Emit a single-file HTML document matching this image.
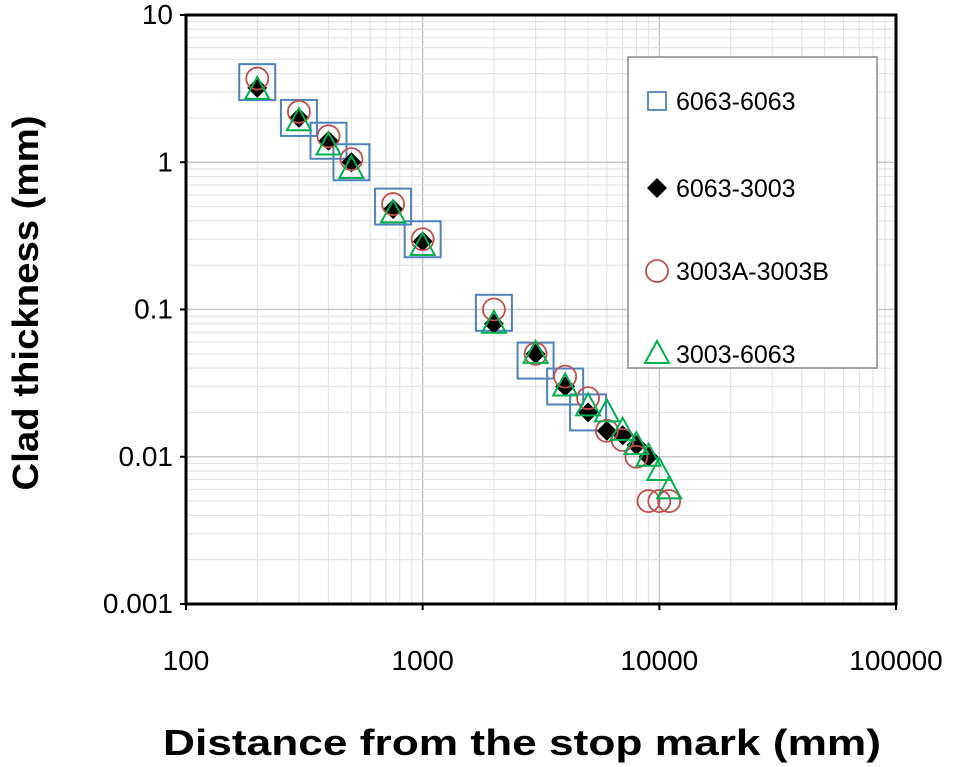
<!DOCTYPE html>
<html><head><meta charset="utf-8"><style>
body{margin:0;background:#fff;width:958px;height:767px;overflow:hidden}
svg{display:block;font-family:"Liberation Sans",sans-serif}
</style></head><body>
<svg id="c" width="958" height="767"></svg>
<script>
const xTicks=[100,1000,10000,100000];
const xTickLabels=["100","1000","10000","100000"];
const yTicks=[0.001,0.01,0.1,1,10];
const yTickLabels=["0.001","0.01","0.1","1","10"];
const seriesNames=["6063-6063","6063-3003","3003A-3003B","3003-6063"];
const x6063_6063=[200,300,400,500,750,1000,2000,3000,4000,5000];
const y6063_6063=[3.5,2.0,1.4,1.0,0.5,0.3,0.095,0.045,0.03,0.02];
const x6063_3003=[200,300,400,500,750,1000,2000,3000,4000,5000,6000,7000,8000,9000];
const y6063_3003=[3.2,2.0,1.4,1.0,0.48,0.29,0.08,0.05,0.03,0.02,0.015,0.014,0.012,0.01];
const x3003A_B=[200,300,400,500,750,1000,2000,3000,4000,5000,6000,7000,8000,9000,10000,11000];
const y3003A_B=[3.7,2.2,1.5,1.05,0.52,0.3,0.1,0.05,0.035,0.025,0.015,0.013,0.01,0.005,0.005,0.005];
const x3003_6063=[200,300,400,500,750,1000,2000,3000,4000,5000,6000,7000,8000,9000,10000,11000];
const y3003_6063=[3.1,1.9,1.3,0.9,0.45,0.27,0.08,0.05,0.03,0.022,0.02,0.015,0.012,0.01,0.008,0.006];

const L=186,R=896,T=15,B=604;
const sx=v=>L+(Math.log10(v)-2)/3*(R-L);
const sy=v=>B-(Math.log10(v)+3)/4*(B-T);
const svg=document.getElementById('c');
const NS='http://www.w3.org/2000/svg';
function mk(tag,attrs,parent){const e=document.createElementNS(NS,tag);for(const k in attrs)e.setAttribute(k,attrs[k]);(parent||svg).appendChild(e);return e;}

const grid=mk('g',{});


for(let d=2;d<5;d++)for(let m=1;m<10;m++){const v=m*Math.pow(10,d);const x=sx(v);
 mk('line',{x1:x,x2:x,y1:T,y2:B,stroke:m==1?'#c8c8c8':'#e4e4e4','stroke-width':m==1?1.5:1.2},grid);}
for(let d=-3;d<1;d++)for(let m=1;m<10;m++){const v=m*Math.pow(10,d);const y=sy(v);
 mk('line',{x1:L,x2:R,y1:y,y2:y,stroke:m==1?'#c8c8c8':'#e4e4e4','stroke-width':m==1?1.5:1.2},grid);}

const frame=mk('rect',{x:L,y:T,width:R-L,height:B-T,fill:'none',stroke:'#000','stroke-width':3});



xTicks.forEach((v,i)=>{const t=mk('text',{x:sx(v),y:670,'font-size':28,'text-anchor':'middle',fill:'#000'});t.textContent=xTickLabels[i];
 
 
 mk('line',{x1:sx(v),x2:sx(v),y1:B,y2:B+6,stroke:'#000','stroke-width':2});});
yTicks.forEach((v,i)=>{const t=mk('text',{x:173,y:sy(v)+9,'font-size':28,'text-anchor':'end',fill:'#000'});t.textContent=yTickLabels[i];
 
 
 mk('line',{x1:L-6,x2:L,y1:sy(v),y2:sy(v),stroke:'#000','stroke-width':2});});

const xt=mk('text',{x:522,y:755,'font-size':36,'font-weight':'bold','text-anchor':'middle',textLength:718,lengthAdjust:'spacingAndGlyphs'});xt.textContent='Distance from the stop mark (mm)';


const yt=mk('text',{x:0,y:0,'font-size':36,'font-weight':'bold','text-anchor':'middle',textLength:375,lengthAdjust:'spacingAndGlyphs',transform:'translate(38,303) rotate(-90)'});yt.textContent='Clad thickness (mm)';



function marker(kind,x,y,g){
 if(kind==0)mk('rect',{x:x-18,y:y-18,width:36,height:36,fill:'none',stroke:'#4f81bd','stroke-width':2},g);
 else if(kind==1)mk('polygon',{points:`${x},${y-10} ${x+10},${y} ${x},${y+10} ${x-10},${y}`,fill:'#000'},g);
 else if(kind==2)mk('circle',{cx:x,cy:y,r:11,fill:'none',stroke:'#c0504d','stroke-width':1.8},g);
 else mk('polygon',{points:`${x},${y-13} ${x+12},${y+9} ${x-12},${y+9}`,fill:'none',stroke:'#00b050','stroke-width':2},g);
}
const xs=[x6063_6063,x6063_3003,x3003A_B,x3003_6063],ys=[y6063_6063,y6063_3003,y3003A_B,y3003_6063];
const snames=['series-6063-6063','series-6063-3003','series-3003a-3003b','series-3003-6063'];
for(let s=0;s<4;s++){const g=mk('g',{});
 
 
 xs[s].forEach((v,i)=>marker(s,sx(v),sy(ys[s][i]),g));}

const lg=mk('g',{});


mk('rect',{x:628,y:57,width:249,height:311,fill:'#fff',stroke:'#888','stroke-width':1.5},lg);
const ly=[101,188,271,354];
seriesNames.forEach((n,i)=>{const g=mk('g',{},lg);
 
 
 if(i==0)mk('rect',{x:648,y:ly[i]-9,width:18,height:18,fill:'none',stroke:'#4f81bd','stroke-width':1.8},g);
 else marker(i,657,ly[i],g);
 const t=mk('text',{x:676,y:ly[i]+9,'font-size':25,fill:'#000'},g);t.textContent=n;});
</script>
</body></html>
